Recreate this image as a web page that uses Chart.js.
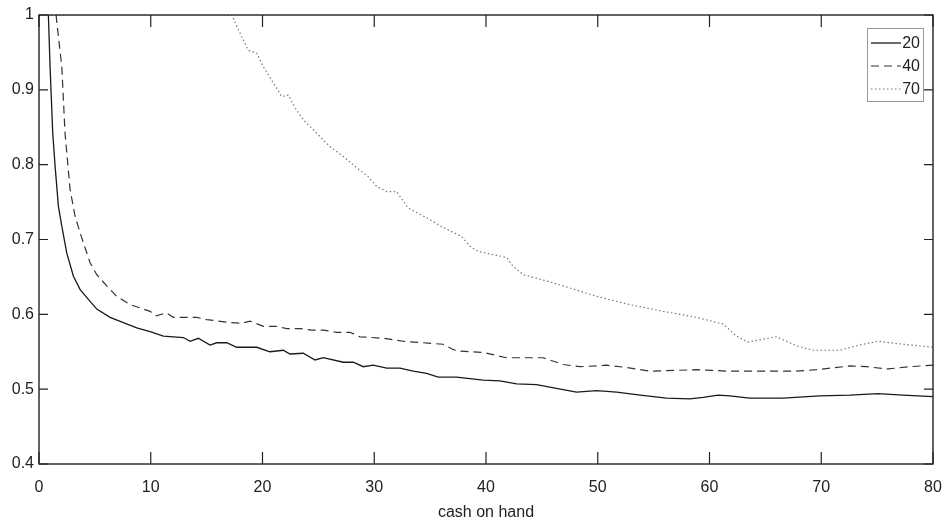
<!DOCTYPE html>
<html>
<head>
<meta charset="utf-8">
<script src="https://cdn.jsdelivr.net/npm/chart.js@4"></script>
<style>
  html, body { margin: 0; padding: 0; background: #fff; }
  #wrap { width: 944px; height: 530px; }
</style>
</head>
<body>
<div id="wrap"><canvas id="chart" width="944" height="530"></canvas></div>
<script>
// values
const xTicks = [0, 10, 20, 30, 40, 50, 60, 70, 80];
const yTicks = [0.4, 0.5, 0.6, 0.7, 0.8, 0.9, 1];
const seriesNames = ['20', '40', '70'];

const x20 = [0.84, 0.99, 1.23, 1.44, 1.74, 2.04, 2.48, 3.08, 3.68, 4.42, 5.17, 6.36, 7.55, 8.75, 9.94, 11.13, 12.92, 13.52, 14.26, 15.3, 15.9, 16.8, 17.69, 19.48, 20.67, 21.86, 22.46, 23.65, 24.7, 25.44, 27.23, 28.12, 29.02, 29.91, 31.11, 32.3, 33.49, 34.69, 35.73, 37.37, 39.75, 41.24, 42.74, 44.52, 46.3, 48.1, 49.9, 51.7, 53.8, 56.15, 58.24, 59.43, 60.77, 61.8, 63.6, 66.58, 69.87, 72.55, 75.08, 77.32, 80];
const y20 = [1.0, 0.931, 0.842, 0.798, 0.744, 0.718, 0.682, 0.651, 0.633, 0.620, 0.607, 0.596, 0.589, 0.582, 0.577, 0.571, 0.569, 0.564, 0.568, 0.559, 0.562, 0.562, 0.556, 0.556, 0.550, 0.552, 0.547, 0.548, 0.539, 0.542, 0.536, 0.536, 0.530, 0.532, 0.528, 0.528, 0.524, 0.521, 0.516, 0.516, 0.512, 0.511, 0.507, 0.506, 0.501, 0.496, 0.498, 0.496, 0.492, 0.488, 0.487, 0.489, 0.492, 0.491, 0.488, 0.488, 0.491, 0.492, 0.494, 0.492, 0.490];

const x40 = [1.53, 1.59, 2.04, 2.33, 2.78, 3.23, 3.68, 4.12, 4.57, 5.17, 6.06, 6.96, 8.15, 9.34, 9.94, 10.5, 11.4, 12.02, 14.11, 15.01, 17.09, 18.14, 18.88, 20.07, 21.27, 22.16, 23.35, 24.4, 25.44, 26.63, 27.83, 28.72, 30.81, 32.6, 34.38, 36.17, 36.92, 37.37, 39.75, 41.84, 45.1, 46.9, 48.4, 50.8, 52.6, 54.7, 58.84, 61.8, 67.78, 69.57, 72.55, 74.04, 75.97, 77.9, 80];
const y40 = [1.0, 0.991, 0.931, 0.842, 0.767, 0.731, 0.709, 0.689, 0.669, 0.653, 0.638, 0.624, 0.613, 0.607, 0.604, 0.598, 0.602, 0.596, 0.596, 0.593, 0.589, 0.588, 0.591, 0.584, 0.584, 0.581, 0.581, 0.579, 0.579, 0.576, 0.576, 0.570, 0.568, 0.564, 0.562, 0.560, 0.554, 0.551, 0.549, 0.542, 0.542, 0.533, 0.530, 0.532, 0.529, 0.524, 0.526, 0.524, 0.524, 0.526, 0.531, 0.530, 0.527, 0.530, 0.532];

const x70 = [0, 17.24, 17.99, 18.73, 19.48, 20.07, 21.27, 21.72, 22.31, 22.91, 23.65, 24.85, 26.04, 27.23, 28.43, 29.46, 30.21, 31.11, 32.0, 33.04, 34.69, 36.17, 37.82, 38.56, 39.3, 41.84, 42.43, 43.33, 45.56, 46.9, 49.9, 52.87, 55.85, 58.84, 61.22, 62.41, 63.45, 65.99, 67.78, 69.27, 71.65, 73.14, 75.08, 76.72, 80];
const y70 = [1.0, 1.0, 0.976, 0.953, 0.949, 0.931, 0.902, 0.891, 0.893, 0.876, 0.860, 0.842, 0.824, 0.811, 0.796, 0.784, 0.771, 0.764, 0.764, 0.742, 0.729, 0.716, 0.704, 0.691, 0.684, 0.676, 0.664, 0.653, 0.644, 0.638, 0.624, 0.613, 0.604, 0.596, 0.587, 0.571, 0.563, 0.570, 0.558, 0.552, 0.552, 0.558, 0.564, 0.561, 0.556];

const FONT = "'Liberation Sans', Arial, sans-serif";

function toPoints(xs, ys) {
    return xs.map((x, i) => ({ x: x, y: ys[i] }));
}

// box, inward ticks and legend, MATLAB style
const axesBox = {
    id: 'axesBox',
    afterDatasetsDraw(chart) {
        const { ctx, chartArea: a, scales } = chart;
        ctx.save();
        ctx.strokeStyle = '#222';
        ctx.lineWidth = 1.4;
        ctx.strokeRect(a.left, a.top, a.right - a.left, a.bottom - a.top);
        ctx.lineWidth = 1.2;
        ctx.beginPath();
        xTicks.forEach(v => {
            const px = scales.x.getPixelForValue(v);
            ctx.moveTo(px, a.bottom); ctx.lineTo(px, a.bottom - 12);
            ctx.moveTo(px, a.top); ctx.lineTo(px, a.top + 12);
        });
        yTicks.forEach(v => {
            const py = scales.y.getPixelForValue(v);
            ctx.moveTo(a.left, py); ctx.lineTo(a.left + 9, py);
            ctx.moveTo(a.right, py); ctx.lineTo(a.right - 9, py);
        });
        ctx.stroke();

        // legend
        const lx = 867, ly = 28, lw = 56, lh = 73;
        ctx.fillStyle = '#fff';
        ctx.fillRect(lx, ly, lw, lh);
        ctx.strokeStyle = '#999';
        ctx.lineWidth = 1;
        ctx.strokeRect(lx + 0.5, ly + 0.5, lw, lh);
        ctx.font = '16px ' + FONT;
        ctx.textAlign = 'right';
        ctx.textBaseline = 'middle';
        chart.data.datasets.forEach((ds, i) => {
            const y = ly + 15 + i * 23;
            ctx.strokeStyle = ds.borderColor;
            ctx.lineWidth = ds.borderWidth;
            ctx.setLineDash(ds.borderDash || []);
            ctx.beginPath();
            ctx.moveTo(lx + 4, y); ctx.lineTo(lx + 34, y);
            ctx.stroke();
            ctx.setLineDash([]);
            ctx.fillStyle = '#222';
            ctx.fillText(ds.label, lx + lw - 3, y + 1);
        });
        ctx.restore();
    }
};

new Chart(document.getElementById('chart'), {
    type: 'line',
    data: {
        datasets: [
            { label: seriesNames[0], data: toPoints(x20, y20), borderColor: '#1a1a1a', borderWidth: 1.3 },
            { label: seriesNames[1], data: toPoints(x40, y40), borderColor: '#333', borderWidth: 1.2, borderDash: [8, 5] },
            { label: seriesNames[2], data: toPoints(x70, y70), borderColor: '#777', borderWidth: 1.2, borderDash: [1.5, 2.5] }
        ]
    },
    options: {
        responsive: false,
        animation: false,
        devicePixelRatio: 1,
        parsing: false,
        elements: { point: { radius: 0 }, line: { tension: 0, fill: false } },
        layout: { padding: { top: 15, right: 11, left: 0, bottom: 0 } },
        plugins: { legend: { display: false }, tooltip: { enabled: false } },
        scales: {
            x: {
                type: 'linear', min: 0, max: 80,
                afterBuildTicks: s => { s.ticks = xTicks.map(v => ({ value: v })); },
                afterFit: s => { s.height = 66; s.paddingLeft = 0; s.paddingRight = 0; },
                grid: { display: false, drawTicks: false },
                border: { display: false },
                ticks: { padding: 14, color: '#222', font: { family: FONT, size: 16 }, maxRotation: 0 },
                title: { display: true, text: 'cash on hand', color: '#222', font: { family: FONT, size: 16 }, padding: { top: 0, bottom: 8 } }
            },
            y: {
                min: 0.4, max: 1,
                afterBuildTicks: s => { s.ticks = yTicks.map(v => ({ value: v })); },
                afterFit: s => { s.width = 39; s.paddingTop = 0; s.paddingBottom = 0; },
                grid: { display: false, drawTicks: false },
                border: { display: false },
                ticks: { padding: 5, color: '#222', font: { family: FONT, size: 16 }, callback: v => String(Math.round(v * 10) / 10) }
            }
        }
    },
    plugins: [axesBox]
});
</script>
</body>
</html>
